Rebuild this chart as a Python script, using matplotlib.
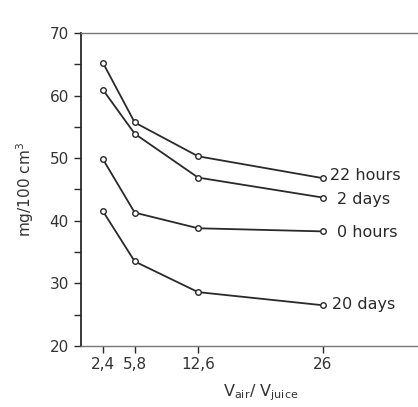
import matplotlib
matplotlib.use("Agg")
import matplotlib.pyplot as plt

# ratio of air volume to juice volume
ratio = [2.4, 5.8, 12.6, 26]
tick_labels = ["2,4", "5,8", "12,6", "26"]

# mg/100 cm3 for each storage time
hours_22 = [65.2, 55.7, 50.3, 46.8]
days_2 = [60.9, 53.9, 46.9, 43.7]
hours_0 = [49.8, 41.3, 38.8, 38.3]
days_20 = [41.5, 33.5, 28.6, 26.5]

# name, values, label offset (x, y) in data units
series = [("22 hours", hours_22, 0.8, 0.4), ("2 days", days_2, 1.5, -0.3),
          ("0 hours", hours_0, 1.5, -0.1), ("20 days", days_20, 1.0, 0.1)]

fig = plt.figure(figsize=(4.18, 4.07), dpi=100)
ax = fig.add_axes([0.193, 0.150, 0.807, 0.769])

ink = "#2a2a2a"
for name, vals, dx, dy in series:
    ax.plot(ratio, vals, color=ink, lw=1.3, marker="o", ms=4,
            mfc="white", mec=ink, mew=1.0, clip_on=False)
    ax.text(ratio[-1] + dx, vals[-1] + dy, name, fontsize=11.5,
            color=ink, va="center", ha="left")

ax.set_xlim(0, 36.2)
ax.set_ylim(20, 70)
ax.set_xticks(ratio)
ax.set_xticklabels(tick_labels)
ax.set_yticks([20, 30, 40, 50, 60, 70])
ax.set_yticks([25, 35, 45, 55, 65], minor=True)

ax.spines["right"].set_visible(False)
for s in ["top", "bottom"]:
    ax.spines[s].set_color("#777777")
    ax.spines[s].set_linewidth(1.0)
ax.spines["left"].set_color(ink)
ax.spines["left"].set_linewidth(1.3)

ax.tick_params(axis="both", which="major", length=5, width=1.0,
               color=ink, labelsize=11, labelcolor="#333333")
ax.tick_params(axis="y", which="minor", length=5, width=1.0, color=ink)
ax.tick_params(axis="x", pad=3)

ax.set_xlabel(r"V$_{\mathrm{air}}$/ V$_{\mathrm{juice}}$", fontsize=11.5,
              color="#333333")
ax.xaxis.set_label_coords(0.535, -0.115)
ax.set_ylabel(r"mg/100 cm$^3$", fontsize=11, color="#333333", labelpad=10)

fig.savefig("out.png", dpi=100)
